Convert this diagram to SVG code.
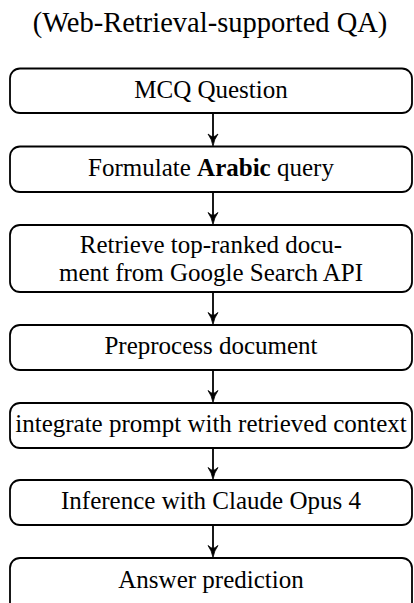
<svg xmlns="http://www.w3.org/2000/svg" width="414" height="603" viewBox="0 0 414 603">
  <style>
    .box { fill: #ffffff; stroke: #000000; stroke-width: 1.8; }
    .lbl { font-family: "Liberation Serif", "Times New Roman", serif; font-size: 25px; fill: #000000; text-anchor: middle; }
    .title { font-family: "Liberation Serif", "Times New Roman", serif; font-size: 28.5px; fill: #000000; text-anchor: middle; }
    .edge { stroke: #000000; stroke-width: 1.8; fill: none; }
  </style>
  <defs>
    <!-- curved-barb arrow tip, tip at origin pointing down -->
    <path id="tip" d="M0 0 Q-1.2 -7 -5 -12 Q-2 -9.5 0 -9 Q2 -9.5 5 -12 Q1.2 -7 0 0 Z" fill="#000000" stroke="#000000" stroke-width="0.8" stroke-linejoin="round"/>
  </defs>
  <rect width="414" height="603" fill="#ffffff"/>

  <text class="title" x="210" y="32">(Web-Retrieval-supported QA)</text>

  <g id="n1">
    <rect class="box" x="10" y="68.5" width="402" height="44.5" rx="10"/>
    <text class="lbl" x="211" y="98">MCQ Question</text>
  </g>
  <g id="n2">
    <rect class="box" x="10" y="146.5" width="402" height="45.5" rx="10"/>
    <text class="lbl" x="211" y="176">Formulate <tspan font-weight="bold">Arabic</tspan> query</text>
  </g>
  <g id="n3">
    <rect class="box" x="10" y="225" width="402" height="67" rx="10"/>
    <text class="lbl" x="211" y="253">Retrieve top-ranked docu-</text>
    <text class="lbl" x="211" y="281">ment from Google Search API</text>
  </g>
  <g id="n4">
    <rect class="box" x="10" y="325" width="402" height="45" rx="10"/>
    <text class="lbl" x="211" y="354">Preprocess document</text>
  </g>
  <g id="n5">
    <rect class="box" x="10" y="403" width="402" height="45" rx="10"/>
    <text class="lbl" x="211" y="432">integrate prompt with retrieved context</text>
  </g>
  <g id="n6">
    <rect class="box" x="10" y="480" width="402" height="45" rx="10"/>
    <text class="lbl" x="211" y="509">Inference with Claude Opus 4</text>
  </g>
  <g id="n7">
    <rect class="box" x="10" y="558" width="402" height="60" rx="10"/>
    <text class="lbl" x="211" y="588">Answer prediction</text>
  </g>

  <g id="connectors">
    <path class="edge" d="M213 113 V140"/>
    <use href="#tip" x="213" y="146"/>
    <path class="edge" d="M213 192 V218"/>
    <use href="#tip" x="213" y="224.5"/>
    <path class="edge" d="M213 292 V318"/>
    <use href="#tip" x="213" y="324.5"/>
    <path class="edge" d="M213 370 V396"/>
    <use href="#tip" x="213" y="402.5"/>
    <path class="edge" d="M213 448 V473"/>
    <use href="#tip" x="213" y="479.5"/>
    <path class="edge" d="M213 525 V551"/>
    <use href="#tip" x="213" y="557.5"/>
  </g>
</svg>
